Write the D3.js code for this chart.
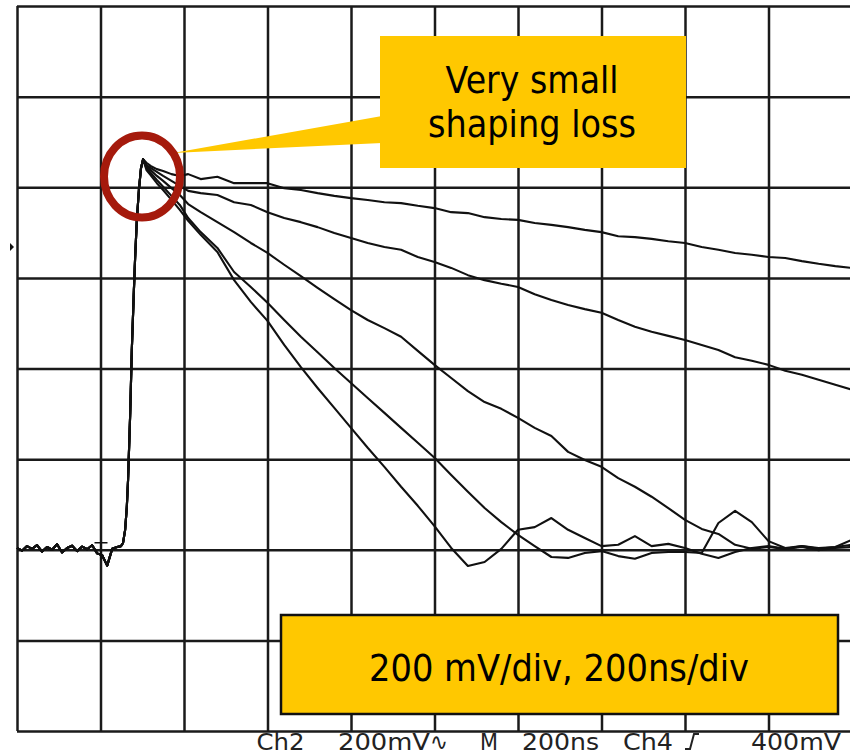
<!DOCTYPE html>
<html><head><meta charset="utf-8">
<script src="https://cdn.jsdelivr.net/npm/d3@7"></script>
<style>html,body{margin:0;padding:0;background:#fff;} svg{display:block;}</style>
</head><body>
<svg id="chart" width="850" height="755"></svg>
<script>
// ---------------- data ----------------
// graticule divisions: 200 ns/div horizontally, 200 mV/div vertically
const xTicks = [0, 200, 400, 600, 800, 1000, 1200, 1400, 1600, 1800, 2000];      // ns
const yTicks = [-400, -200, 0, 200, 400, 600, 800, 1000, 1200];                   // mV

// common part: baseline noise + rising edge up to the peak (ns, mV)
const riseTime = [0,12,24,36,48,60,72,84,96,108,120,132,144,156,168,180,192,204,216,228,240,
                  249,254,259,263,266,271,275,280,283,287,292,297,302];
const riseMv   = [4,-2,8,2,10,-4,6,0,12,-6,4,9,-3,7,1,10,-8,-12,-35,2,6,
                  8,15,44,94,154,297,441,573,646,727,794,842,862];

// decay part, shared time axis (ns)
const decayTime = [310,320,335,350,370,390,410,440,480,520,560,600,640,680,720,760,800,840,880,920,
                   960,1000,1040,1080,1120,1160,1200,1240,1280,1320,1360,1400,1440,1480,1520,1560,
                   1600,1640,1680,1720,1760,1800,1840,1880,1920,1960,2000];
// five shaping settings (mV)
const traceA = [854,847,840,836,829,825,829,818,823,809,809,809,798,794,787,781,776,772,767,765,
                759,754,745,743,734,730,728,721,717,712,706,701,692,690,686,681,677,668,662,655,
                651,646,644,637,631,626,622];
const traceB = [849,843,834,825,814,803,792,787,783,767,761,745,732,723,712,699,688,677,668,662,
                646,635,622,606,595,587,580,564,551,540,531,523,507,492,481,472,463,452,441,425,
                417,408,395,386,375,364,353];
const traceC = [847,838,825,814,798,783,763,745,723,701,677,655,629,604,578,553,529,507,489,470,
                439,408,379,350,326,311,291,269,251,216,198,183,158,139,117,92,66,46,35,11,
                2,6,2,8,4,6,22];
const traceD = [843,832,816,801,781,761,732,701,666,613,580,545,507,470,436,401,368,335,302,269,
                236,203,165,128,92,61,33,8,-16,-18,-7,-3,-14,-20,-7,-5,-5,-7,59,86,
                61,19,4,8,2,6,11];
const traceE = [838,827,809,794,772,750,726,695,657,595,547,505,452,403,357,313,269,225,183,139,
                97,52,4,-36,-27,2,44,50,70,44,26,8,11,30,8,13,4,-9,-18,-5,
                4,8,2,6,-1,4,6];

const calloutLines = ["Very small", "shaping loss"];
const scaleLabel = "200 mV/div, 200ns/div";
const statusLabels = ["Ch2", "200mV", "\u223F", "M", "200ns", "Ch4", "400mV"];
const triggerTime = 200;   // ns, trigger position marker
const triggerLevel = 668;  // mV, level marker on the left edge

// ---------------- drawing ----------------
const svg = d3.select("#chart");
const plotL = 17, plotR = 852, plotT = 6, plotB = 731;
const x = d3.scaleLinear().domain([xTicks[0], xTicks[xTicks.length-1]]).range([plotL, plotR]);
const y = d3.scaleLinear().domain([yTicks[0], yTicks[yTicks.length-1]]).range([plotB, plotT]);

svg.append("rect").attr("width", 850).attr("height", 755).attr("fill", "#fff");

const gridColor = "#1a1a1a";
const gx = svg.append("g").attr("transform", `translate(0,${plotB})`)
  .call(d3.axisBottom(x).tickValues(xTicks).tickSize(-(plotB - plotT)).tickFormat(""));
gx.select(".domain").remove();
gx.selectAll("line").attr("stroke", gridColor).attr("stroke-width", 2.5);

const gy = svg.append("g").attr("transform", `translate(${plotL},0)`)
  .call(d3.axisLeft(y).tickValues(yTicks).tickSize(-(plotR - plotL)).tickFormat(""));
gy.select(".domain").remove();
gy.selectAll("line").attr("stroke", gridColor).attr("stroke-width", 2.5);

// traces
const line = d3.line().x(d => x(d[0])).y(d => y(d[1]));
const traces = [traceA, traceB, traceC, traceD, traceE];
const g = svg.append("g");
traces.forEach(vals => {
  const pts = riseTime.map((t, i) => [t, riseMv[i]])
    .concat(decayTime.map((t, i) => [t, vals[i]]));
  g.append("path").datum(pts).attr("d", line)
    .attr("fill", "none").attr("stroke", "#111").attr("stroke-width", 2.1)
    .attr("stroke-linejoin", "round");
});

// trigger position marker (T) at baseline
svg.append("path")
  .attr("transform", `translate(${x(triggerTime)},${y(0)})`)
  .attr("d", "M-6,-7H7M0.5,-7V10")
  .attr("stroke", "#111").attr("stroke-width", 1.6).attr("fill", "none");

// level marker on left
svg.append("path")
  .attr("transform", `translate(10,${y(triggerLevel)})`)
  .attr("d", "M0,-4L4,0L0,4Z").attr("fill", "#111");

const yellow = "#FFC800";

// callout wedge + box
svg.append("path").attr("d", "M173,153L382,116L382,143Z").attr("fill", yellow);
svg.append("rect").attr("x", 380).attr("y", 36).attr("width", 306).attr("height", 132).attr("fill", yellow);
const calloutBase = [93, 137];
const calloutWidth = [173, 208];
calloutLines.forEach((t, i) => {
  svg.append("text").attr("x", 532).attr("y", calloutBase[i])
    .attr("text-anchor", "middle").attr("font-family", "DejaVu Sans").attr("font-size", 38)
    .attr("textLength", calloutWidth[i]).attr("lengthAdjust", "spacingAndGlyphs")
    .attr("fill", "#000").text(t);
});

// red circle
svg.append("ellipse").attr("cx", 142).attr("cy", 176.5).attr("rx", 38).attr("ry", 41)
  .attr("fill", "none").attr("stroke", "#A51A0C").attr("stroke-width", 8);

// scale box
svg.append("rect").attr("x", 281).attr("y", 615).attr("width", 557).attr("height", 99)
  .attr("fill", yellow).attr("stroke", "#111").attr("stroke-width", 2.5);
svg.append("text").attr("x", 559).attr("y", 681).attr("text-anchor", "middle")
  .attr("font-family", "DejaVu Sans").attr("font-size", 38)
  .attr("textLength", 380).attr("lengthAdjust", "spacingAndGlyphs")
  .attr("fill", "#000").text(scaleLabel);

// status line
const statusX = [256.5, 338, 430, 480, 522, 623, 751];
const statusW = [48, 92, 18, 18, 77, 50, 90];
statusLabels.forEach((t, i) => {
  svg.append("text").attr("x", statusX[i]).attr("y", 749.5)
    .attr("font-family", "DejaVu Sans").attr("font-size", 23)
    .attr("textLength", statusW[i]).attr("lengthAdjust", "spacingAndGlyphs")
    .attr("fill", "#222").text(t);
});
// rising-edge trigger icon
svg.append("path").attr("d", "M685,749H690L694,734H699")
  .attr("fill", "none").attr("stroke", "#222").attr("stroke-width", 2);
</script>
</body></html>
